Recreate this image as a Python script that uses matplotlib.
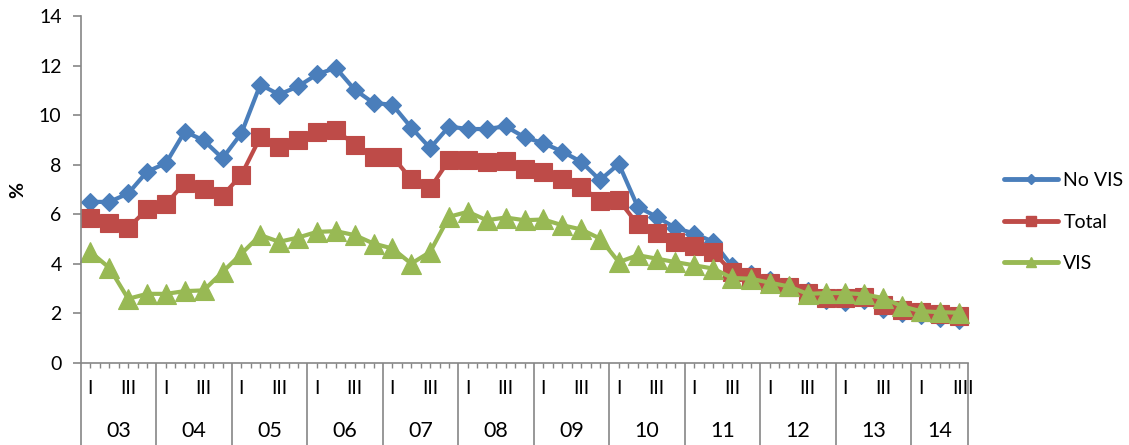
import matplotlib
matplotlib.use("Agg")
import matplotlib.pyplot as plt
from matplotlib.lines import Line2D
from matplotlib.transforms import blended_transform_factory

plt.rcParams['font.family'] = ['Lato', 'DejaVu Sans']

years = ["03", "04", "05", "06", "07", "08", "09", "10", "11", "12", "13", "14"]
quarters_per_year = [4, 4, 4, 4, 4, 4, 4, 4, 4, 4, 4, 3]
quarter_labels = ["I", "", "III", ""]

no_vis = [6.50, 6.50, 6.84, 7.72,
          8.06, 9.34, 8.98, 8.26,
          9.27, 11.23, 10.83, 11.16,
          11.64, 11.91, 11.03, 10.49,
          10.42, 9.50, 8.67, 9.54,
          9.44, 9.44, 9.55, 9.11,
          8.87, 8.53, 8.12, 7.38,
          8.03, 6.30, 5.90, 5.45,
          5.22, 4.89, 3.90, 3.61,
          3.34, 3.12, 2.92, 2.55,
          2.46, 2.53, 2.18, 2.02,
          1.94, 1.82, 1.75]
total = [5.83, 5.65, 5.45, 6.20,
         6.41, 7.27, 7.01, 6.75,
         7.59, 9.11, 8.71, 8.98,
         9.30, 9.41, 8.80, 8.33,
         8.33, 7.41, 7.05, 8.19,
         8.19, 8.09, 8.15, 7.82,
         7.72, 7.41, 7.11, 6.55,
         6.57, 5.59, 5.25, 4.88,
         4.72, 4.48, 3.67, 3.47,
         3.22, 3.06, 2.84, 2.61,
         2.63, 2.66, 2.36, 2.15,
         2.05, 1.96, 1.89]
vis = [4.48, 3.84, 2.59, 2.79,
       2.79, 2.90, 2.93, 3.67,
       4.41, 5.16, 4.89, 5.06,
       5.29, 5.32, 5.16, 4.82,
       4.62, 4.01, 4.48, 5.90,
       6.10, 5.76, 5.87, 5.76,
       5.79, 5.56, 5.39, 5.02,
       4.07, 4.35, 4.21, 4.07,
       3.94, 3.81, 3.43, 3.40,
       3.24, 3.09, 2.79, 2.82,
       2.82, 2.77, 2.62, 2.29,
       2.09, 2.05, 2.03]

series_names = ["No VIS", "Total", "VIS"]
colors = ["#4A7EBB", "#BE4B48", "#98B954"]
markers = ["D", "s", "^"]
marker_sizes = [8.8, 12.8, 13.8]
legend_marker_sizes = [5.5, 6.5, 7.5]

W, H = 1129, 445
fig = plt.figure(figsize=(W / 100, H / 100), dpi=100)
ax_left, ax_right, ax_bottom, ax_top = 81, 968, 363, 16
ax = fig.add_axes([ax_left / W, (H - ax_bottom) / H,
                   (ax_right - ax_left) / W, (ax_bottom - ax_top) / H])

axis_grey = "#868686"
n = len(no_vis)
x = list(range(n))

for vals, c, m, ms in zip([no_vis, total, vis], colors, markers, marker_sizes):
    ax.plot(x, vals, color=c, lw=3.0, marker=m, ms=ms,
            markerfacecolor=c, markeredgecolor=c, markeredgewidth=0.8,
            solid_joinstyle="round", solid_capstyle="round", clip_on=False)

ax.set_xlim(-0.5, n - 0.5)
ax.set_ylim(0, 14)
ax.set_yticks(range(0, 15, 2))
ax.tick_params(axis="y", direction="out", length=6, width=1.2, color=axis_grey,
               pad=8, labelsize=14)

# category boundaries between years, drawn as long major ticks
bounds = [-0.5]
for q in quarters_per_year:
    bounds.append(bounds[-1] + q)
ax.set_xticks(bounds)
ax.set_xticklabels([])
ax.set_xticks([i * 0.5 - 0.5 for i in range(2 * n + 1)], minor=True)
ax.tick_params(axis="x", which="major", direction="out", length=60,
               width=1.2, color=axis_grey)
ax.tick_params(axis="x", which="minor", direction="out", length=3.5,
               width=1.0, color=axis_grey)

for side in ["top", "right"]:
    ax.spines[side].set_visible(False)
for side in ["left", "bottom"]:
    ax.spines[side].set_color(axis_grey)
    ax.spines[side].set_linewidth(1.2)

# two-level category labels
tr = blended_transform_factory(ax.transData, fig.transFigure)
q_y = (H - 389) / H
y_y = (H - 431) / H
start = 0
for yr, q in zip(years, quarters_per_year):
    for k in range(q):
        lab = quarter_labels[k]
        if yr == years[-1] and k == q - 1:
            ax.text(start + k + 0.25, q_y, "IIII", transform=tr, ha="center",
                    va="center", fontsize=14)
            continue
        if lab:
            ax.text(start + k, q_y, lab, transform=tr, ha="center",
                    va="center", fontsize=14)
    ax.text(start + (q - 1) / 2, y_y, yr, transform=tr, ha="center",
            va="center", fontsize=15.5)
    start += q

fig.text(18 / W, (H - 190) / H, "%", rotation=90, ha="center", va="center",
         fontsize=14, fontweight="bold")

handles = [Line2D([0], [0], color=c, lw=3.5, marker=m, ms=lms,
                  markerfacecolor=c, markeredgecolor=c, solid_capstyle="round")
           for c, m, lms in zip(colors, markers, legend_marker_sizes)]
fig.legend(handles, series_names, loc="center left",
           bbox_to_anchor=(1004 / W, (H - 222) / H), frameon=False,
           fontsize=14, handlelength=2.8, handletextpad=0.25,
           labelspacing=1.25, borderpad=0, borderaxespad=0)

fig.savefig("out.png", dpi=100)
